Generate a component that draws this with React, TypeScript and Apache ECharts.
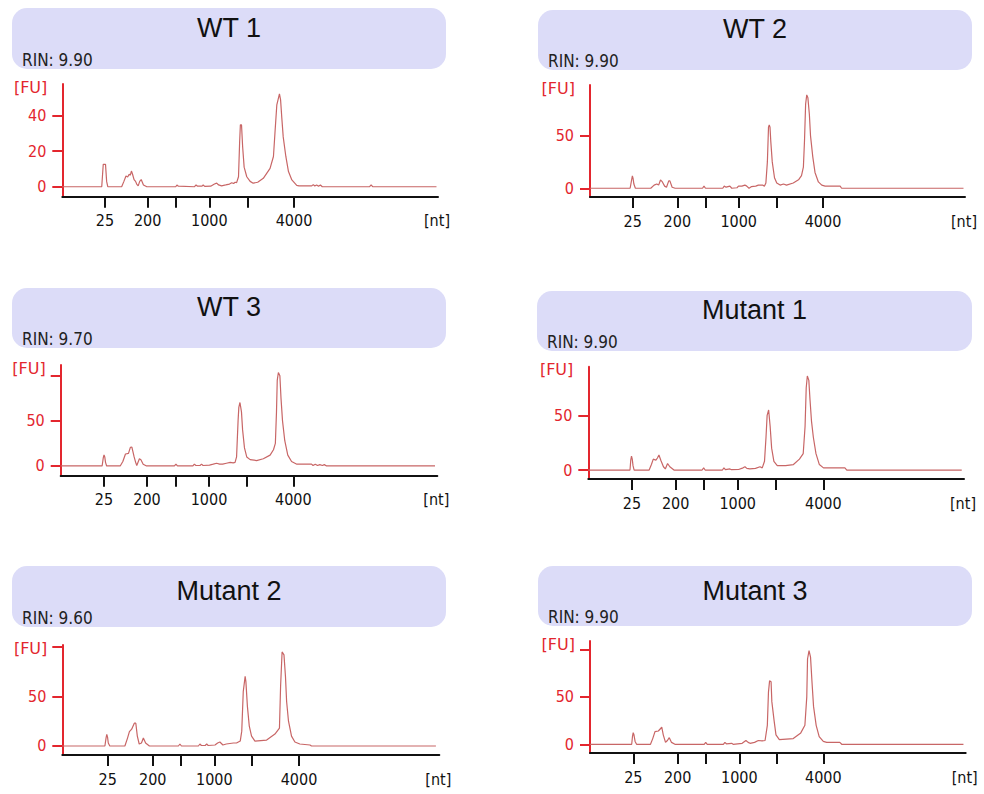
import React, { useEffect, useRef } from 'react';
import * as echarts from 'echarts';

// ---- data ----
const SAMPLES = ['WT 1', 'WT 2', 'WT 3', 'Mutant 1', 'Mutant 2', 'Mutant 3'];
const RIN_VALUES = ['9.90', '9.90', '9.70', '9.90', '9.60', '9.90'];
const LADDER_LABELS = ['25', '200', '', '1000', '', '4000'];

// ladder tick positions (relative migration, 0-100 of x axis) per sample
const ladderWT1 = [11.37, 22.73, 30.26, 39.13, 49.24, 61.67];
const ladderWT2 = [11.39, 23.28, 30.75, 39.65, 49.68, 62.13];
const ladderWT3 = [11.5, 22.92, 30.43, 39.38, 49.39, 61.76];
const ladderMut1 = [11.63, 23.26, 30.72, 39.77, 49.77, 62.55];
const ladderMut2 = [12.04, 23.98, 31.3, 40.32, 50.32, 62.79];
const ladderMut3 = [11.53, 23.34, 30.8, 39.74, 49.77, 62.1];

// y ticks / labels [FU]
const yTicksWT1 = [0, 20, 40];
const yTicksWT2 = [0, 50];
const yTicksWT3 = [0, 50, 100];
const yTicksMut1 = [0, 50];
const yTicksMut2 = [0, 50, 100];
const yTicksMut3 = [0, 50, 100];
const yLabelsWT1 = [0, 20, 40];
const yLabelsOther = [0, 50];

// y ranges [FU]
const yRangeWT1 = [-5.6, 57.7];
const yRangeWT2 = [-8.3, 98];
const yRangeWT3 = [-10.8, 112];
const yRangeMut1 = [-8.2, 94.5];
const yRangeMut2 = [-9.1, 102];
const yRangeMut3 = [-9.2, 109];

// traces: [relative migration, FU]
const traceWT1 = [
  [0, 0], [10.5, 0], [10.9, 12.6], [11.5, 12.6], [11.8, 3], [12.1, 0], [15.8, 0], [16.4, 3], [16.95, 6], [17.4, 5.5],
  [17.8, 7], [18.1, 6.5], [18.4, 8.8], [18.7, 7], [19.1, 4], [19.5, 3], [19.8, 1.5], [20.2, 0.5], [20.6, 3], [21.0, 4],
  [21.3, 2.5], [21.6, 1], [22.5, 0], [30.2, 0], [30.5, 1], [30.9, 0.3], [35.2, 0], [35.6, 1], [36, 0.3], [37.2, 0.3],
  [37.5, 1], [37.9, 0.2], [39.5, 0.3], [40.5, 1.5], [41.1, 2], [41.6, 1], [42.4, 0.5], [43.5, 1], [44.5, 1.5], [45.1, 2.2],
  [45.6, 1.8], [46.0, 2.5], [46.4, 2.3], [46.9, 5.6], [47.2, 25], [47.4, 34.8], [47.7, 34.8], [48.0, 22.5], [48.4, 11],
  [49.1, 5.6], [50, 3], [50.8, 2], [52, 2.5], [53.5, 4.7], [55.3, 10.3], [56.2, 17], [56.6, 30], [57.1, 46], [57.8, 52.2],
  [58.1, 48.8], [58.4, 39.4], [58.8, 28], [59.5, 17], [60.2, 8.5], [61.1, 3.8], [62.4, 0.8], [63, 0.5], [66.4, 0.5],
  [66.8, 1.2], [67.2, 0.4], [67.7, 1], [68.2, 0.3], [68.7, 1], [69.2, 0], [81.8, 0], [82.2, 1], [82.6, 0], [99.6, 0],
];
const traceWT2 = [
  [0, 0], [10.7, 0], [11.1, 8], [11.3, 11.7], [11.5, 9], [11.7, 4], [12.1, 0], [16.2, 0], [17.1, 3], [17.8, 4], [18.3, 3],
  [18.8, 7.9], [19.3, 6], [19.9, 2], [20.4, 1], [21.0, 7], [21.3, 7], [21.9, 1], [22.7, 0], [30.0, 0], [30.4, 2], [30.8, 0],
  [35.4, 0], [35.8, 2], [36.3, 1], [37.3, 2], [37.8, 0], [39.2, 0.5], [39.6, 2], [40.5, 2], [41.3, 3], [41.8, 2], [42.4, 0],
  [43, 1.5], [44.2, 2], [44.9, 3], [46, 3], [46.5, 2], [46.9, 5], [47.3, 25], [47.6, 58], [47.8, 60], [48.0, 58], [48.2, 45],
  [48.6, 25], [49.2, 10], [49.8, 5], [50.7, 3], [51.6, 4], [52.4, 3], [54.2, 5], [55.6, 8], [56.4, 12], [56.9, 20],
  [57.2, 45], [57.5, 80], [57.8, 88.6], [58.1, 86], [58.5, 70], [58.8, 50], [59.4, 30], [60, 15], [60.9, 6], [61.8, 3],
  [62.7, 2], [66.7, 2], [67.1, 0], [99.6, 0],
];
const traceWT3 = [
  [0, 0], [11.0, 0], [11.3, 9], [11.5, 12.2], [11.7, 10], [11.9, 4], [12.2, 0], [15.8, 0], [16.5, 5], [17.2, 13.3],
  [18.0, 14], [18.5, 20.7], [18.9, 21], [19.5, 10], [19.9, 4], [20.2, 0.5], [20.9, 8], [21.3, 7], [21.9, 2], [22.8, 0],
  [30.2, 0], [30.6, 2], [31, 0], [35.1, 0], [35.5, 2], [35.9, 0.5], [37, 0.5], [37.4, 2], [37.8, 0.5], [39.5, 1], [40.5, 2],
  [41.4, 3], [42.2, 2], [43, 2], [44, 3], [45, 4], [45.8, 3.5], [46.3, 4], [46.7, 10], [47.1, 50], [47.3, 65], [47.6, 70.4],
  [48, 60], [48.3, 40], [48.8, 20], [49.4, 10], [50.3, 7], [52, 6], [53.8, 8], [55.6, 12], [56.5, 18], [57, 25], [57.3, 60],
  [57.5, 95], [57.8, 103.7], [58.2, 100], [58.5, 75], [58.9, 50], [59.5, 28], [60.3, 12], [61.3, 5], [62.7, 2], [66.6, 2],
  [67, 0.5], [67.6, 2], [68.2, 0.5], [68.8, 1.5], [69.5, 0.5], [70, 1.5], [70.6, 0], [99.4, 0],
];
const traceMut1 = [
  [0, 0], [11.1, 0], [11.3, 9], [11.5, 12.8], [11.7, 10], [11.9, 4], [12.2, 0], [16.2, 0], [16.8, 5], [17.3, 10], [18.0, 9],
  [18.4, 11], [18.8, 13.7], [19.3, 9], [20, 3], [20.5, 1], [21.1, 6], [21.7, 3], [22.8, 0], [30.3, 0], [30.7, 2], [31.1, 0],
  [35.7, 0], [36.1, 2], [36.5, 0.3], [37.7, 1], [38.1, 0.3], [40, 0.5], [41.2, 2], [41.7, 3], [42.2, 1.5], [43, 1],
  [44.5, 1.5], [45.7, 3], [46.3, 2], [46.9, 8], [47.3, 30], [47.6, 50], [48, 54.9], [48.4, 40], [48.8, 20], [49.4, 8],
  [50.3, 4], [52.5, 4], [54.6, 5], [56.2, 10], [57.2, 15], [57.7, 40], [58, 75], [58.3, 86], [58.7, 82], [59, 65],
  [59.4, 45], [59.9, 30], [60.6, 15], [61.5, 5], [62.6, 2], [68.3, 2], [68.8, 0], [99.4, 0],
];
const traceMut2 = [
  [0, 0], [11.3, 0], [11.6, 8], [11.8, 11.8], [12.0, 9], [12.2, 3], [12.6, 0], [16.6, 0], [17.3, 8], [17.8, 14.5],
  [18.4, 17], [19.1, 23], [19.5, 23], [19.9, 10], [20.4, 2], [21.0, 3], [21.5, 8], [22.1, 3], [23.1, 0], [30.8, 0],
  [31.2, 2], [31.6, 0], [36.1, 0], [36.5, 2], [36.9, 0.5], [37.9, 0.5], [38.3, 2], [38.7, 0.5], [40.5, 1], [41.2, 3],
  [41.8, 4], [42.6, 1], [43.5, 2], [45.4, 3], [46.2, 3], [46.7, 4], [47.2, 5], [47.6, 15], [48, 55], [48.5, 70.3],
  [48.7, 65], [49.1, 40], [49.6, 20], [50.2, 10], [51.1, 5], [54.2, 6], [56.4, 12], [57.6, 18], [57.9, 60], [58.3, 95],
  [58.8, 92], [59.2, 70], [59.5, 45], [60, 25], [60.8, 10], [61.7, 4], [63, 2], [65.7, 1], [66.1, 0], [99.1, 0],
];
const traceMut3 = [
  [0, 0], [11.1, 0], [11.3, 8], [11.5, 12.3], [11.7, 10], [12, 3], [12.4, 0], [16.1, 0], [16.7, 6], [17.3, 13.4],
  [18.2, 14], [19.1, 18], [19.5, 10], [20.1, 2], [20.6, 4], [21.1, 7], [21.7, 2], [22.6, 0], [30.4, 0], [30.8, 2],
  [31.2, 0], [35.5, 0], [35.9, 2], [36.3, 0.5], [37.7, 1], [38.1, 0], [40.5, 1], [41.5, 4], [42.1, 2], [42.6, 1],
  [43.8, 2], [44.8, 4], [45.8, 3.5], [46.6, 4], [47.2, 20], [47.5, 55], [47.8, 66.9], [48.2, 66], [48.4, 45], [49, 25],
  [49.5, 10], [50.4, 5], [54.1, 6], [56.1, 12], [57.2, 20], [57.7, 50], [57.9, 90], [58.3, 98.8], [58.7, 92], [59.1, 65],
  [59.5, 40], [60.2, 20], [61, 8], [62.1, 3], [63, 2], [66.5, 2], [67, 0], [99.4, 0],
];

// ---- layout (pixels) ----
const GRIDS = [
  { left: 62.3, top: 84, width: 375.7, height: 112.7 },
  { left: 590, top: 85, width: 375, height: 112 },
  { left: 60.7, top: 365, width: 376.6, height: 110.7 },
  { left: 588.3, top: 366.7, width: 375.7, height: 112.3 },
  { left: 62.3, top: 645, width: 377, height: 110 },
  { left: 590, top: 641, width: 375.7, height: 112 },
];
const HEADERS = [
  { x: 12, y: 8, w: 434, h: 61, ty: 28 },
  { x: 538, y: 10, w: 434, h: 60, ty: 29 },
  { x: 12, y: 288, w: 434, h: 60, ty: 307 },
  { x: 537, y: 291, w: 435, h: 60, ty: 310 },
  { x: 12, y: 566, w: 434, h: 61, ty: 591 },
  { x: 538, y: 566, w: 434, h: 60, ty: 591 },
];

const RED = '#e3262e';
const TRACE = '#c86666';
const DARK = '#111111';
const FONT = 'DejaVu Sans, Verdana, sans-serif';
const FONT_C = 'DejaVu Sans Condensed, DejaVu Sans, sans-serif';

export default function App() {
  const ref = useRef<HTMLDivElement>(null);
  useEffect(() => {
    document.body.style.margin = '0';
    const chart = echarts.init(ref.current!, null, { renderer: 'svg' });
    const ladders = [ladderWT1, ladderWT2, ladderWT3, ladderMut1, ladderMut2, ladderMut3];
    const yTicks = [yTicksWT1, yTicksWT2, yTicksWT3, yTicksMut1, yTicksMut2, yTicksMut3];
    const yLabels = [yLabelsWT1, yLabelsOther, yLabelsOther, yLabelsOther, yLabelsOther, yLabelsOther];
    const yRanges = [yRangeWT1, yRangeWT2, yRangeWT3, yRangeMut1, yRangeMut2, yRangeMut3];
    const traces = [traceWT1, traceWT2, traceWT3, traceMut1, traceMut2, traceMut3];

    const graphic: any[] = [];
    SAMPLES.forEach((name, i) => {
      const h = HEADERS[i];
      const g = GRIDS[i];
      graphic.push({
        type: 'rect', z: -10,
        shape: { x: h.x, y: h.y, width: h.w, height: h.h, r: 15 },
        style: { fill: '#dcdcf8' },
      });
      graphic.push({
        type: 'text', x: h.x + h.w / 2, y: h.ty,
        style: { text: name, fill: DARK, fontSize: 27, fontFamily: 'Liberation Sans, Arial, sans-serif', textAlign: 'center', textVerticalAlign: 'middle' },
      });
      graphic.push({
        type: 'text', x: h.x + 10, y: h.y + h.h - 9,
        style: { text: 'RIN: ' + RIN_VALUES[i], fill: '#222', fontSize: 17, fontFamily: FONT_C, textAlign: 'left', textVerticalAlign: 'middle' },
      });
      graphic.push({
        type: 'text', x: g.left - 15, y: g.top + 3,
        style: { text: '[FU]', fill: RED, fontSize: 16, fontFamily: FONT, textAlign: 'right', textVerticalAlign: 'middle' },
      });
      graphic.push({
        type: 'text', x: g.left + g.width + 12, y: g.top + g.height + 24,
        style: { text: '[nt]', fill: DARK, fontSize: 16, fontFamily: FONT_C, textAlign: 'right', textVerticalAlign: 'middle' },
      });
    });

    const option: any = {
      animation: false,
      backgroundColor: '#ffffff',
      grid: GRIDS.map((g) => ({ left: g.left, top: g.top, width: g.width, height: g.height, containLabel: false })),
      xAxis: ladders.map((lad, i) => ({
        type: 'value', gridIndex: i, min: 0, max: 100,
        axisLine: { show: true, onZero: false, lineStyle: { color: DARK, width: 2 } },
        axisTick: { show: true, customValues: lad, length: 11, lineStyle: { color: DARK, width: 2 } },
        axisLabel: {
          show: true,
          customValues: lad.filter((_, k) => LADDER_LABELS[k] !== ''),
          formatter: (v: number) => {
            const k = lad.findIndex((p) => Math.abs(p - v) < 1e-6);
            return k >= 0 ? LADDER_LABELS[k] : '';
          },
          margin: 16, color: DARK, fontSize: 16, fontFamily: FONT_C,
        },
        splitLine: { show: false },
      })),
      yAxis: yRanges.map((r, i) => ({
        type: 'value', gridIndex: i, min: r[0], max: r[1],
        axisLine: { show: true, onZero: false, lineStyle: { color: RED, width: 2 } },
        axisTick: { show: true, customValues: yTicks[i], length: 10, lineStyle: { color: RED, width: 2 } },
        axisLabel: { show: true, customValues: yLabels[i], margin: 16, color: RED, fontSize: 16, fontFamily: FONT_C },
        splitLine: { show: false },
      })),
      series: traces.map((t, i) => ({
        type: 'line', xAxisIndex: i, yAxisIndex: i, data: t,
        showSymbol: false, symbol: 'none', silent: true,
        lineStyle: { color: TRACE, width: 1.2 },
      })),
      graphic,
    };
    chart.setOption(option);
    return () => chart.dispose();
  }, []);
  return <div ref={ref} style={{ position: 'absolute', left: 0, top: 0, width: 984, height: 794, background: '#fff' }} />;
}
